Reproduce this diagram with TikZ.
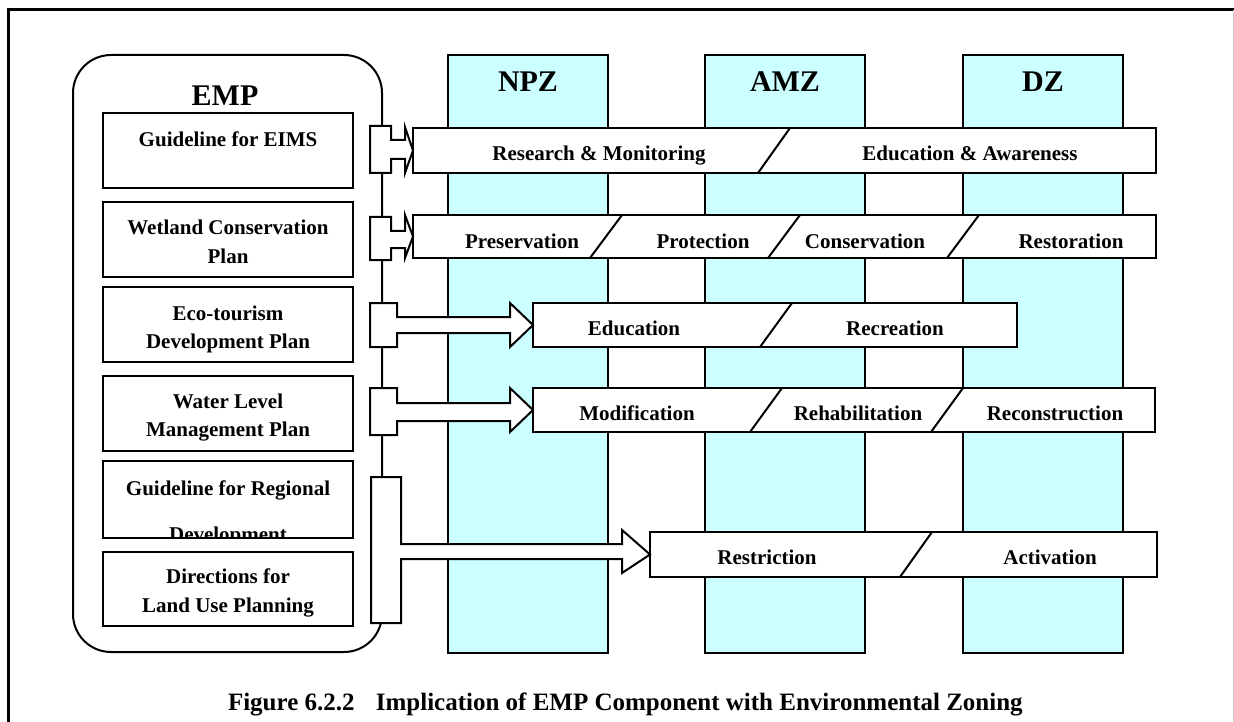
\documentclass[tikz,border=0pt]{standalone}
\usepackage{fontspec}
\setmainfont{Liberation Serif}
\usetikzlibrary{shapes.misc}
\definecolor{zonecyan}{HTML}{CCFFFF}
\begin{document}
\begin{tikzpicture}[x=1pt,y=-1pt,line join=miter,
  every node/.style={inner sep=0pt,outer sep=0pt},
  shapeline/.style={draw=black,line width=2pt},
  zone/.style={shapeline,fill=zonecyan,minimum width=160pt,minimum height=598pt,anchor=north west},
  planbox/.style={shapeline,fill=white,minimum width=250pt,anchor=north west},
  bar/.style={shapeline,fill=white,anchor=north west},
  callout/.style={shapeline,fill=white},
  divider/.style={line width=2pt},
  lbl/.style={font=\bfseries\fontsize{21}{25}\selectfont,anchor=base},
  big/.style={font=\bfseries\fontsize{30}{34}\selectfont,anchor=base},
]
\useasboundingbox (0,0) rectangle (1234,722);

% page frame
\draw[line width=3pt] (1234,10) -- (8,10) -- (8,722);
\draw[black!20,line width=1pt] (1233,10) -- (1233,722);

% zoning columns
\node[zone] (npz) at (448,55) {};
\node[zone] (amz) at (705,55) {};
\node[zone] (dz)  at (963,55) {};
\node[big] (npz-h) at (528,92) {NPZ};
\node[big] (amz-h) at (785,92) {AMZ};
\node[big] (dz-h)  at (1043,92) {DZ};

% EMP container
\node[shapeline,fill=white,rounded corners=38pt,minimum width=309pt,minimum height=597pt,anchor=north west] (emp) at (73,55) {};
\node[big] (emp-h) at (225,106) {EMP};

% EMP components
\node[planbox,minimum height=75pt] (b1) at (103,113) {};
\node[planbox,minimum height=75pt] (b2) at (103,202) {};
\node[planbox,minimum height=75pt] (b3) at (103,287) {};
\node[planbox,minimum height=75pt] (b4) at (103,376) {};
\node[planbox,minimum height=77pt] (b5) at (103,461) {};
\node[planbox,minimum height=74pt] (b6) at (103,552) {};

\node[lbl] (b1a) at (228,147) {Guideline for EIMS};
\node[lbl] (b2a) at (228,234) {Wetland Conservation};
\node[lbl] (b2b) at (228,263) {Plan};
\node[lbl] (b3a) at (228,320) {Eco-tourism};
\node[lbl] (b3b) at (228,348) {Development Plan};
\node[lbl] (b4a) at (228,408) {Water Level};
\node[lbl] (b4b) at (228,436) {Management Plan};
\begin{scope}
  \clip (b5.north west) rectangle (b5.south east);
  \node[lbl] (b5a) at (228,495) {Guideline for Regional};
  \node[lbl] (b5b) at (228,541) {Development};
\end{scope}
\draw[shapeline] (b5.north west) rectangle (b5.south east);
\node[lbl] (b6a) at (228,583) {Directions for};
\node[lbl] (b6b) at (228,612) {Land Use Planning};

% measure bars
\node[bar,minimum width=743pt,minimum height=45pt] (r1) at (413,128) {};
\node[bar,minimum width=743pt,minimum height=43pt] (r2) at (413,215) {};
\node[bar,minimum width=484pt,minimum height=44pt] (r3) at (533,303) {};
\node[bar,minimum width=622pt,minimum height=44pt] (r4) at (533,388) {};
\node[bar,chamfered rectangle,chamfered rectangle xsep=4pt,chamfered rectangle ysep=4pt,minimum width=507pt,minimum height=45pt] (r5) at (650,532) {};

\draw[divider] (758,173) -- (790,128);
\draw[divider] (590,258) -- (622,215);
\draw[divider] (768,258) -- (800,215);
\draw[divider] (947,258) -- (979,215);
\draw[divider] (760,347) -- (792,303);
\draw[divider] (750,432) -- (782,388);
\draw[divider] (931,432) -- (963,388);
\draw[divider] (900,577) -- (932,532);

\node[lbl] (r1a) at (599,161) {Research \& Monitoring};
\node[lbl] (r1b) at (970,161) {Education \& Awareness};
\node[lbl] (r2a) at (522,248) {Preservation};
\node[lbl] (r2b) at (703,248) {Protection};
\node[lbl] (r2c) at (865,248) {Conservation};
\node[lbl] (r2d) at (1071,248) {Restoration};
\node[lbl] (r3a) at (634,335) {Education};
\node[lbl] (r3b) at (895,335) {Recreation};
\node[lbl] (r4a) at (637,420) {Modification};
\node[lbl] (r4b) at (858,420) {Rehabilitation};
\node[lbl] (r4c) at (1055,420) {Reconstruction};
\node[lbl] (r5a) at (767,564) {Restriction};
\node[lbl] (r5b) at (1050,564) {Activation};

% arrow callouts from the EMP components to the measures
\draw[callout] (370,126) -- (391,126) -- (391,140) -- (405,140) -- (405,127) -- (r1.west) -- (405,173) -- (405,159) -- (391,159) -- (391,173) -- (370,173) -- cycle;
\draw[callout] (370,217) -- (391,217) -- (391,231) -- (405,231) -- (405,215) -- (r2.west) -- (405,258) -- (405,248) -- (391,248) -- (391,260) -- (370,260) -- cycle;
\draw[callout] (370,303) -- (397,303) -- (397,317) -- (510,317) -- (510,303) -- (r3.west) -- (510,347) -- (510,333) -- (397,333) -- (397,347) -- (370,347) -- cycle;
\draw[callout] (370,388) -- (397,388) -- (397,403) -- (510,403) -- (510,388) -- (r4.west) -- (510,432) -- (510,421) -- (397,421) -- (397,435) -- (370,435) -- cycle;
\draw[callout] (371,477) -- (401,477) -- (401,544) -- (622,544) -- (622,530) -- (r5.west) -- (622,573) -- (622,559) -- (401,559) -- (401,623) -- (371,623) -- cycle;

% caption
\node[font=\bfseries\fontsize{25}{29}\selectfont,anchor=base west] (cap) at (228,710) {Figure 6.2.2\hspace{0.6em} Implication of EMP Component with Environmental Zoning};
\end{tikzpicture}
\end{document}
